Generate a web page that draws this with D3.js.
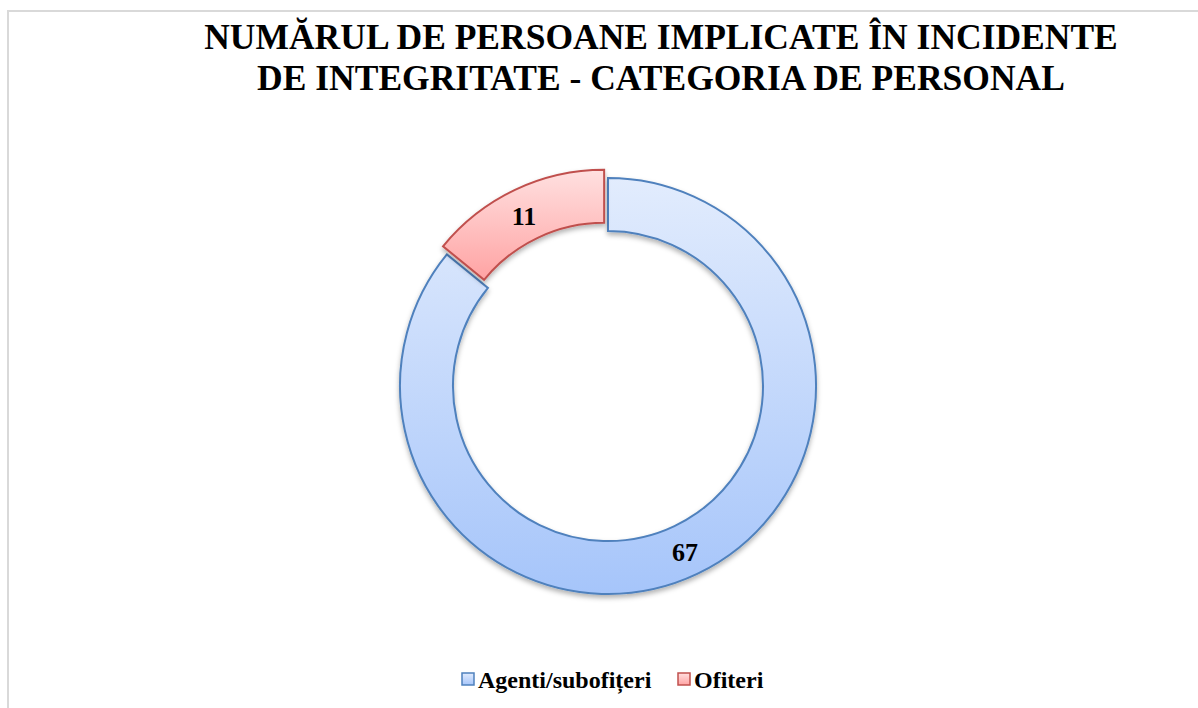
<!DOCTYPE html>
<html>
<head>
<meta charset="utf-8">
<script src="https://cdn.jsdelivr.net/npm/d3@7"></script>
<style>
  body { margin: 0; background: #fff; }
  text { font-family: "Liberation Serif", "Times New Roman", serif; font-weight: bold; }
</style>
</head>
<body>
<div id="vis"></div>
<script>
const categories = ['Agenti/subofițeri', 'Ofiteri'];
const values = [67, 11];
const titleLines = ['NUMĂRUL DE PERSOANE IMPLICATE ÎN INCIDENTE', 'DE INTEGRITATE - CATEGORIA DE PERSONAL'];

const width = 1198;
const height = 708;

const cx = 608;
const cy = 386;
const outerR = 208;
const innerR = 155;
const explode = [0, 9];

const fills = [
  {top: '#e2ecfd', bottom: '#a6c5fa', stroke: '#4f81bd'},
  {top: '#ffe0e0', bottom: '#ffa3a3', stroke: '#c0504d'}
];

const svg = d3.select('#vis').append('svg')
    .attr('width', width)
    .attr('height', height);

const defs = svg.append('defs');

fills.forEach((f, i) => {
  const g = defs.append('linearGradient')
      .attr('id', `grad${i}`)
      .attr('x1', 0).attr('y1', 0)
      .attr('x2', 0).attr('y2', 1);
  g.append('stop').attr('offset', '0%').attr('stop-color', f.top);
  g.append('stop').attr('offset', '100%').attr('stop-color', f.bottom);
});

const shadow = defs.append('filter')
    .attr('id', 'shadow')
    .attr('x', '-10%').attr('y', '-10%')
    .attr('width', '120%').attr('height', '120%');
shadow.append('feDropShadow')
    .attr('dx', 0).attr('dy', 3)
    .attr('stdDeviation', 2.5)
    .attr('flood-color', '#000')
    .attr('flood-opacity', 0.3);

// chart border
svg.append('rect')
    .attr('x', 8)
    .attr('y', 11)
    .attr('width', 1300)
    .attr('height', 800)
    .attr('fill', 'none')
    .attr('stroke', '#d9d9d9')
    .attr('stroke-width', 2);

// title
svg.append('text')
    .attr('x', 661)
    .attr('y', 49)
    .attr('text-anchor', 'middle')
    .attr('font-size', 35.5)
  .selectAll('tspan')
  .data(titleLines)
  .join('tspan')
    .attr('x', 661)
    .attr('dy', (d, i) => i === 0 ? 0 : 41)
    .text(d => d);

const pie = d3.pie()
    .sort(null)
    .value(d => d.value);

const arcs = pie(categories.map((c, i) => ({name: c, value: values[i]})));

const arc = d3.arc()
    .innerRadius(innerR)
    .outerRadius(outerR);

const g = svg.append('g')
    .attr('transform', `translate(${cx}, ${cy})`);

const offset = (d, i) => {
  if (i === 0) return [0, 0];
  const a = (d.startAngle + d.endAngle) / 2;
  return [Math.sin(a) * explode[i], -Math.cos(a) * explode[i]];
};

g.selectAll('path')
  .data(arcs)
  .join('path')
    .attr('transform', (d, i) => `translate(${offset(d, i)})`)
    .attr('d', arc)
    .attr('fill', (d, i) => `url(#grad${i})`)
    .attr('stroke', (d, i) => fills[i].stroke)
    .attr('stroke-width', 2)
    .attr('stroke-linejoin', 'miter')
    .attr('filter', 'url(#shadow)');

// data labels
const labelPos = [[77, 175], [-84, -161]];
g.selectAll('.label')
  .data(arcs)
  .join('text')
    .attr('class', 'label')
    .attr('x', (d, i) => labelPos[i][0])
    .attr('y', (d, i) => labelPos[i][1])
    .attr('text-anchor', 'middle')
    .attr('font-size', 26)
    .attr('fill', '#000')
    .text(d => d.data.value);

// legend
const legendX = [462, 678];
const legend = svg.append('g')
  .selectAll('g')
  .data(categories)
  .join('g')
    .attr('transform', (d, i) => `translate(${legendX[i]}, 673)`);

legend.append('rect')
    .attr('width', 12)
    .attr('height', 12)
    .attr('fill', (d, i) => `url(#grad${i})`)
    .attr('stroke', (d, i) => fills[i].stroke)
    .attr('stroke-width', 1.5);

legend.append('text')
    .attr('x', 16)
    .attr('y', 15)
    .attr('font-size', 24)
    .text(d => d);
</script>
</body>
</html>
